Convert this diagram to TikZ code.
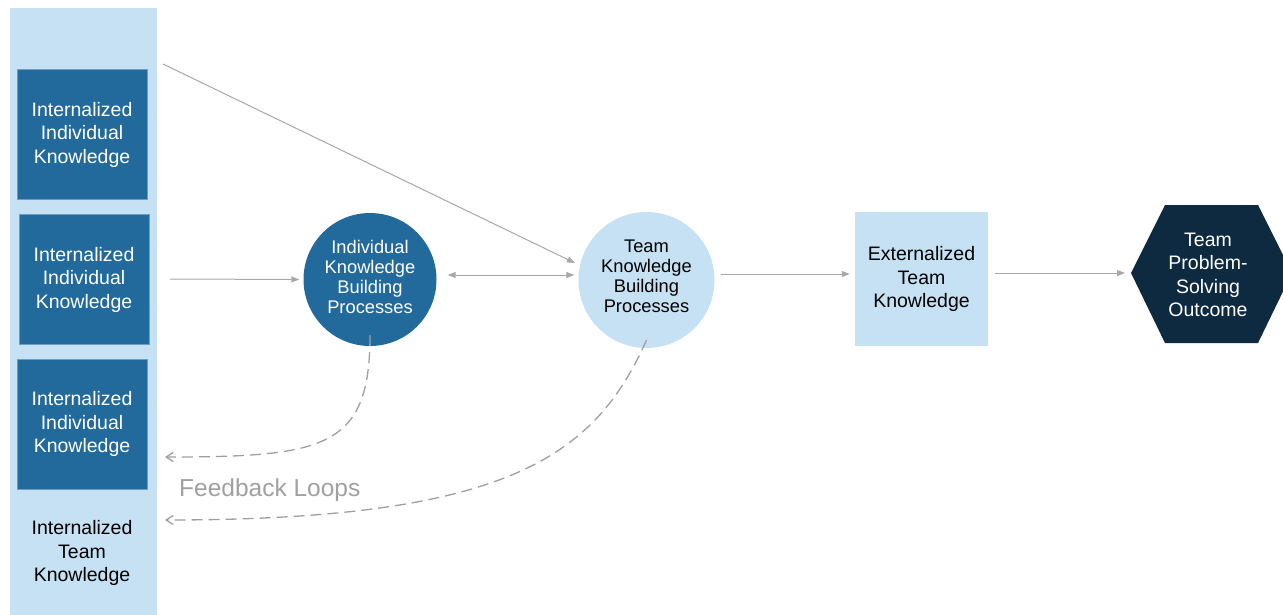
\documentclass[tikz,border=0pt]{standalone}
\usepackage{fontspec}
\setmainfont{Liberation Sans}
\usetikzlibrary{arrows.meta,shapes.geometric}
\definecolor{lightb}{HTML}{C5E1F3}
\definecolor{darkb}{HTML}{226A9B}
\definecolor{boxedge}{HTML}{6D9CC8}
\definecolor{navy}{HTML}{0E2A40}
\definecolor{arrowgray}{HTML}{A8A8A8}
\definecolor{dashgray}{HTML}{A0A0A0}
\begin{document}
\begin{tikzpicture}[x=1pt,y=-1pt,
  txt/.style={font=\fontsize{19.5}{23.5}\selectfont,align=center,inner sep=0pt},
  ctxt/.style={font=\fontsize{18.3}{20}\selectfont,align=center,inner sep=0pt},
  darkbox/.style={txt,fill=darkb,draw=boxedge,line width=1pt,text=white,minimum width=130pt,minimum height=130pt},
  lightbox/.style={txt,fill=lightb,text=black,minimum width=133pt,minimum height=134pt},
  circ/.style={ctxt,circle,minimum size=#1},
  conn/.style={draw=arrowgray,line width=1pt,-{Triangle[length=8pt,width=6pt]}},
  fb/.style={draw=dashgray,line width=1.3pt,dash pattern=on 11pt off 6pt,-{Straight Barb[length=7pt,width=9pt]}}
]
\useasboundingbox (0,0) rectangle (1283,614);
% left column
\node[fill=lightb,minimum width=147pt,minimum height=608pt,inner sep=0pt] (col) at (83.5,312) {};
\node[darkbox] (b1) at (82,134.5) {Internalized\\Individual\\Knowledge};
\node[darkbox] (b2) at (84,279.5) {Internalized\\Individual\\Knowledge};
\node[darkbox] (b3) at (82,424) {Internalized\\Individual\\Knowledge};
\node[txt,text=black] (itk) at (82,553) {Internalized\\Team\\Knowledge};
% circles
\node[circ=133pt,fill=darkb,text=white] (ind) at (370,279.5) {};
\node[ctxt,text=white] (indt) at (370,276.5) {Individual\\Knowledge\\Building\\Processes};
\node[circ=136pt,fill=lightb,text=black] (team) at (646.5,280) {};
\node[ctxt,text=black] (teamt) at (646.5,276.5) {Team\\Knowledge\\Building\\Processes};
\node[lightbox] (ext) at (921.5,279) {Externalized\\Team\\Knowledge};
\fill[navy] (1131,273) -- (1165,205) -- (1258,205) -- (1292,273) -- (1258,343) -- (1165,343) -- cycle;
\node[txt,text=white] (hex) at (1208,275) {Team\\Problem-\\Solving\\Outcome};
\coordinate (hexw) at (1131,273);
% connectors
\coordinate (d0) at (163,64);
\coordinate (d1) at (575,263);
\draw[conn] (d0) -- (d1);
\coordinate (h0) at (170,279);
\draw[conn] (h0) -- (ind.west) [shorten >=4pt];
\draw[conn,{Triangle[length=8pt,width=6pt]}-{Triangle[length=8pt,width=6pt]},shorten <=11pt,shorten >=4pt] (ind.east |- 0,275) -- (team.west |- 0,275);
\draw[conn,shorten <=6pt,shorten >=5pt] (team.east |- 0,274) -- (ext.west |- 0,274);
\draw[conn,shorten <=7pt,shorten >=6pt] (ext.east |- 0,273) -- (hexw);
% feedback loops
\coordinate (f1) at (165,457);
\coordinate (f2) at (165,520);
\draw[fb] ([yshift=11pt]ind.south) .. controls (370,448) and (325,457) .. (f1);
\draw[fb] ([yshift=8pt]team.south) .. controls (595,455) and (510,520) .. (f2);
\node[font=\fontsize{24.5}{28}\selectfont,text=dashgray,anchor=west,inner sep=0pt] (fl) at (179,490) {Feedback Loops};
\end{tikzpicture}
\end{document}
